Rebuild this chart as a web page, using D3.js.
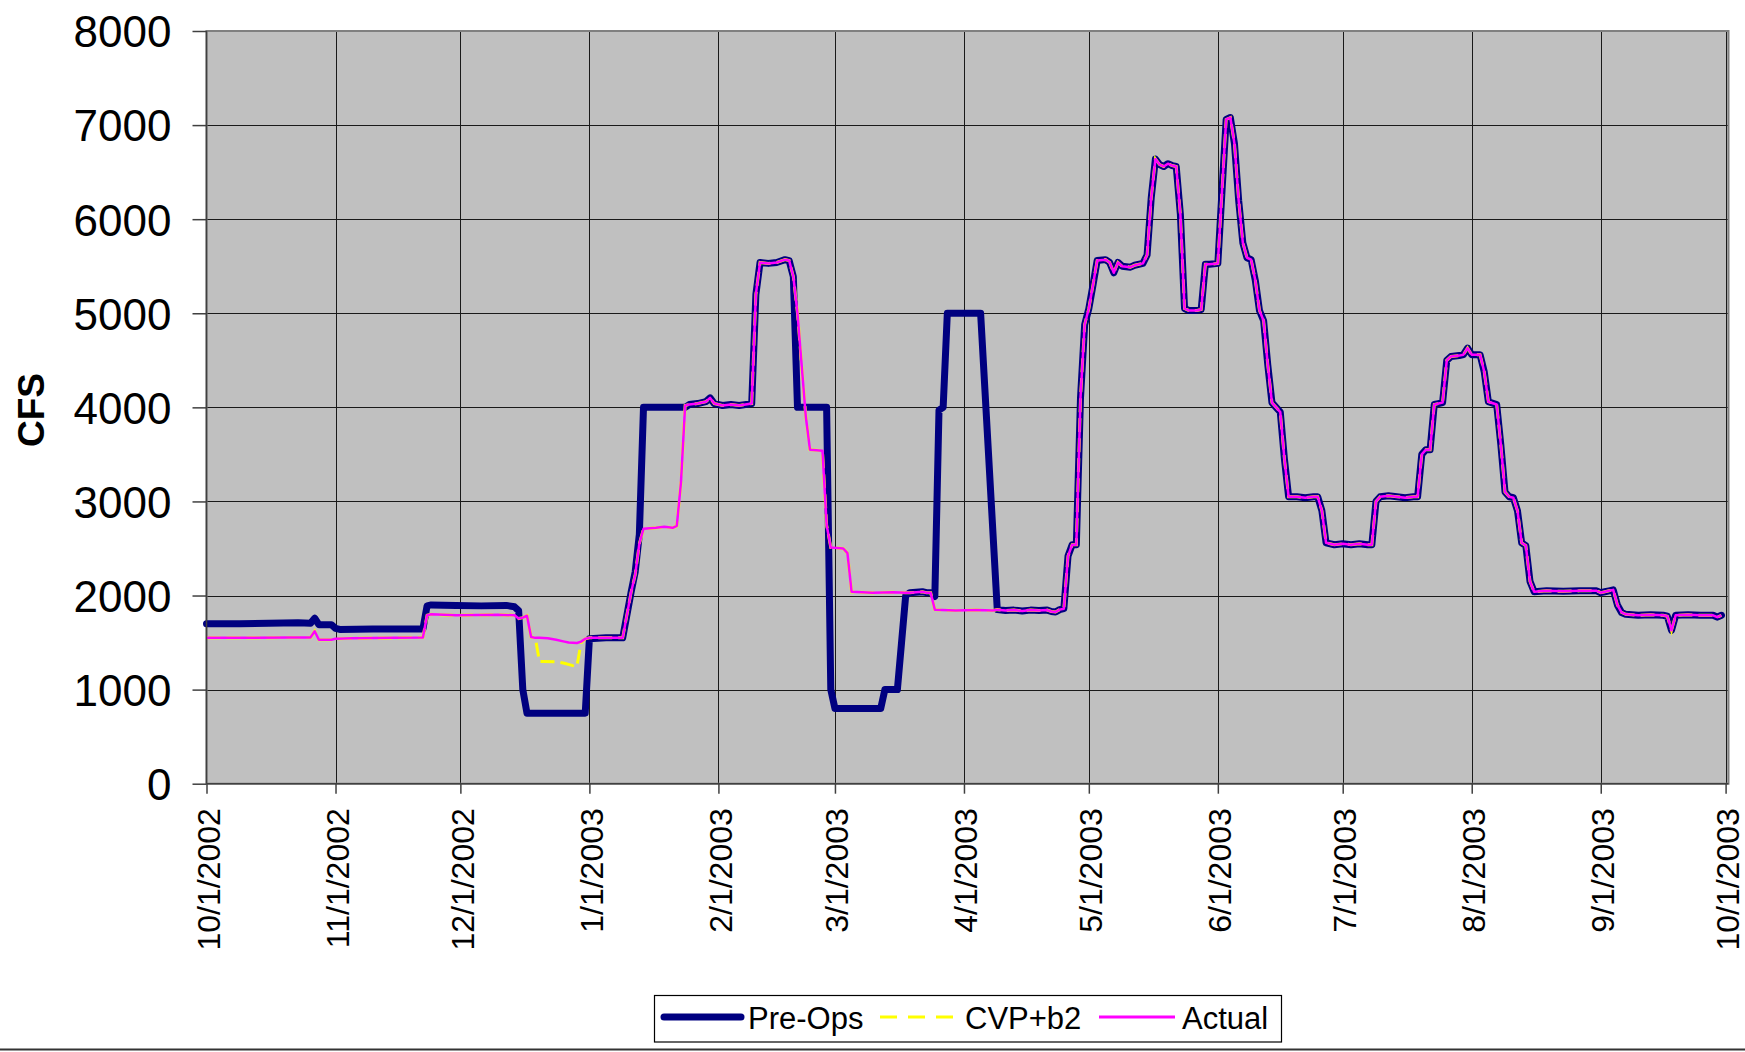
<!DOCTYPE html>
<html><head><meta charset="utf-8">
<script src="https://cdn.jsdelivr.net/npm/d3@7"></script>
<style>
html,body{margin:0;padding:0;background:#fff;}
svg{display:block;font-family:Arial,"Liberation Sans",sans-serif;}
</style>
</head><body>
<svg id="chart" width="1745" height="1052"></svg>
<script>
// ---------- DATA (day offset from 10/1/2002, CFS) ----------
const startDate = Date.UTC(2002, 9, 1);
const endDate = Date.UTC(2003, 9, 1);
const yTickValues = [0, 1000, 2000, 3000, 4000, 5000, 6000, 7000, 8000];
const seriesNames = ["Pre-Ops", "CVP+b2", "Actual"];

// Pre-Ops, Oct 2002 - early Apr 2003
const preOpsFall = [
  [0,1700],[8,1700],[15,1705],[22,1710],[25,1705],[26,1760],[27,1690],[30,1690],[31,1650],[32,1640],
  [40,1645],[48,1645],[52,1645],[53,1890],[54,1900],[60,1895],[66,1890],[72,1895],[74,1880],[75,1840],
  [76,1000],[77,750],[91,750],[92,1540],[96,1550],[100,1550],[102,2030],[103,2250],[104,2650],[105,4000],
  [115,4000],[116,4030],[118,4040],[120,4060],[121,4100],[122,4040],[124,4020],[126,4030],[128,4020],[131,4040],
  [132,5200],[133,5540],[135,5530],[137,5540],[139,5570],[140,5560],[141,5390],[142,4000],[149,4000],[150,1000],
  [151,800],[162,800],[163,1000],[166,1000],[167,1500],[168,2000],[169,2030],[172,2040],[173,2030],[174,2030],
  [175,1990],[176,3970],[177,4000],[178,5000],[186,5000]
];

// Actual, Oct 2002 - early Apr 2003
const actualFall = [
  [0,1550],[10,1550],[20,1555],[25,1555],[26,1620],[27,1530],[30,1530],[31,1540],[35,1545],[45,1550],
  [52,1555],[53,1790],[54,1800],[60,1790],[70,1795],[74,1790],[75,1755],[76,1765],[77,1785],[78,1560],
  [79,1550],[80,1550],[82,1545],[84,1530],[86,1510],[87,1500],[89,1495],[90,1510],[91,1540],[92,1550],
  [100,1550],[102,2030],[103,2220],[104,2550],[105,2710],[108,2720],[110,2730],[112,2720],[113,2740],[114,3200],
  [115,4020],[116,4030],[118,4040],[120,4060],[121,4100],[122,4040],[124,4020],[126,4030],[128,4020],[131,4040],
  [132,5200],[133,5540],[135,5530],[137,5540],[139,5570],[140,5560],[141,5390],[142,5000],[143,4450],[144,3900],
  [145,3550],[148,3540],[149,2750],[150,2510],[153,2500],[154,2450],[155,2040],[160,2030],[165,2035],[168,2030],
  [169,2030],[172,2040],[173,2030],[174,2030],[175,1850],[180,1840],[185,1845],[189,1840]
];

// CVP+b2 where it departs from Actual (December 2002)
const cvpDecember = [
  [80,1300],[81,1300],[84,1295],[86,1280],[88,1255],[89,1245],[90,1500]
];

// All three series coincide from early April 2003 on
const sharedSpringSummer = [
  [190,1850],[192,1840],[194,1845],[196,1835],[198,1845],[200,1840],[202,1845],[203,1830],[204,1825],[205,1850],
  [206,1860],[207,2420],[208,2540],[209,2540],[210,4100],[211,4880],[212,5050],[213,5300],[214,5560],[216,5570],
  [217,5540],[218,5430],[219,5540],[220,5500],[222,5490],[223,5510],[225,5530],[226,5620],[227,6230],[228,6640],
  [229,6580],[230,6560],[231,6590],[232,6570],[233,6560],[234,6050],[235,5050],[236,5030],[238,5030],[239,5040],
  [240,5520],[241,5520],[243,5530],[244,6300],[245,7060],[246,7080],[247,6800],[248,6200],[249,5750],[250,5590],
  [251,5570],[252,5350],[253,5030],[254,4920],[255,4450],[256,4050],[257,4000],[258,3950],[259,3450],[260,3050],
  [262,3050],[264,3040],[266,3050],[267,3050],[268,2900],[269,2560],[271,2540],[273,2550],[275,2540],[277,2550],
  [279,2540],[280,2540],[281,3000],[282,3050],[284,3060],[286,3050],[288,3040],[290,3050],[291,3050],[292,3500],
  [293,3550],[294,3550],[295,4030],[296,4040],[297,4050],[298,4500],[299,4540],[301,4550],[302,4560],[303,4630],
  [304,4560],[306,4560],[307,4380],[308,4060],[310,4030],[311,3600],[312,3100],[313,3050],[314,3040],[315,2900],
  [316,2560],[317,2530],[318,2150],[319,2040],[322,2050],[326,2045],[330,2050],[334,2050],[335,2030],[336,2040],
  [337,2050],[338,2060],[339,1900],[340,1820],[341,1800],[344,1790],[347,1795],[350,1790],[351,1780],[352,1630],
  [353,1790],[356,1795],[359,1790],[362,1790],[363,1770],[364,1790]
];

// ---------- BUILD SERIES ----------
const preOps = preOpsFall.concat(sharedSpringSummer);
const actual = actualFall.concat(sharedSpringSummer);
const cvp = actualFall.filter(d => d[0] < 80 || d[0] > 90).concat(cvpDecember)
  .sort((a, b) => a[0] - b[0]).concat(sharedSpringSummer);

const colors = { "Pre-Ops": "#000080", "CVP+b2": "#FFFF00", "Actual": "#FF00FF" };

// ---------- LAYOUT ----------
const plot = { left: 206.5, right: 1725.6, rectRight: 1728.5, top: 31, bottom: 783.7 };
const toDate = d => new Date(startDate + d * 864e5);

const x = d3.scaleUtc().domain([new Date(startDate), new Date(endDate)]).range([plot.left, plot.right]);
const y = d3.scaleLinear().domain([0, 8000]).range([plot.bottom, plot.top]);

const svg = d3.select("#chart");

// plot background
svg.append("rect")
  .attr("x", plot.left).attr("y", plot.top)
  .attr("width", plot.rectRight - plot.left).attr("height", plot.bottom - plot.top)
  .attr("fill", "#C0C0C0");

const monthTicks = d3.utcMonth.range(new Date(startDate), new Date(endDate + 1));

// gridlines
const grid = svg.append("g");
grid.selectAll("line.h").data(yTickValues.filter(v => v > 0 && v < 8000)).join("line")
  .attr("x1", plot.left).attr("x2", plot.rectRight)
  .attr("y1", d => Math.round(y(d)) + 0.5).attr("y2", d => Math.round(y(d)) + 0.5)
  .attr("stroke", "#1a1a1a").attr("stroke-width", 1);
grid.selectAll("line.v").data(monthTicks.slice(1)).join("line")
  .attr("x1", d => Math.round(x(d)) + 0.5).attr("x2", d => Math.round(x(d)) + 0.5)
  .attr("y1", plot.top).attr("y2", plot.bottom)
  .attr("stroke", "#1a1a1a").attr("stroke-width", 1);

// plot border
svg.append("rect")
  .attr("x", plot.left).attr("y", plot.top)
  .attr("width", plot.rectRight - plot.left).attr("height", plot.bottom - plot.top)
  .attr("fill", "none").attr("stroke", "#808080").attr("stroke-width", 2);

// series
const line = d3.line().x(d => x(toDate(d[0]))).y(d => y(d[1]));
const seriesG = svg.append("g");
seriesG.append("path").datum(preOps).attr("d", line)
  .attr("fill", "none").attr("stroke", colors["Pre-Ops"]).attr("stroke-width", 7)
  .attr("stroke-linejoin", "round").attr("stroke-linecap", "round");
seriesG.append("path").datum(cvp).attr("d", line)
  .attr("fill", "none").attr("stroke", colors["CVP+b2"]).attr("stroke-width", 3)
  .attr("stroke-dasharray", "14,6");
seriesG.append("path").datum(actual).attr("d", line)
  .attr("fill", "none").attr("stroke", colors["Actual"]).attr("stroke-width", 2.5)
  .attr("stroke-linejoin", "round");

// axes lines
svg.append("line").attr("x1", plot.left).attr("x2", plot.left).attr("y1", plot.top).attr("y2", plot.bottom)
  .attr("stroke", "#404040").attr("stroke-width", 1.5);
svg.append("line").attr("x1", plot.left).attr("x2", plot.rectRight).attr("y1", plot.bottom).attr("y2", plot.bottom)
  .attr("stroke", "#404040").attr("stroke-width", 1.5);

// Y axis
const yAxis = svg.append("g").attr("transform", `translate(${plot.left},0)`)
  .call(d3.axisLeft(y).tickValues(yTickValues).tickFormat(d3.format("d")).tickSize(14).tickPadding(21));
yAxis.select(".domain").remove();
yAxis.selectAll(".tick line").attr("stroke", "#404040").attr("stroke-width", 1.5);
yAxis.selectAll(".tick text").attr("font-size", 44).attr("font-family", "Arial, 'Liberation Sans', sans-serif")
  .attr("fill", "#000").attr("dy", "0.36em");

// X axis
const xAxis = svg.append("g").attr("transform", `translate(0,${plot.bottom})`)
  .call(d3.axisBottom(x).tickValues(monthTicks).tickFormat(d3.utcFormat("%-m/%-d/%Y")).tickSize(10));
xAxis.select(".domain").remove();
xAxis.selectAll(".tick line").attr("stroke", "#404040").attr("stroke-width", 1.5);
xAxis.selectAll(".tick text")
  .attr("font-size", 32).attr("font-family", "Arial, 'Liberation Sans', sans-serif").attr("fill", "#000")
  .attr("transform", "rotate(-90)")
  .attr("text-anchor", "end")
  .attr("x", -24.5).attr("y", 13).attr("dy", 0);

// Y title
svg.append("text").attr("transform", "translate(44,410) rotate(-90)")
  .attr("text-anchor", "middle").attr("font-size", 37).attr("font-weight", "bold").text("CFS");

// Legend
const lg = svg.append("g");
lg.append("rect").attr("x", 654.5).attr("y", 995.5).attr("width", 627).attr("height", 46.5)
  .attr("fill", "#fff").attr("stroke", "#000").attr("stroke-width", 1.2);
const legendItems = [
  { name: seriesNames[0], x1: 664, x2: 741, tx: 748, w: 7, dash: null, cap: "round" },
  { name: seriesNames[1], x1: 880, x2: 955, tx: 965, w: 3, dash: "17,11", cap: "butt" },
  { name: seriesNames[2], x1: 1099, x2: 1175, tx: 1182, w: 3, dash: null, cap: "butt" }
];
legendItems.forEach(it => {
  const l = lg.append("line").attr("x1", it.x1).attr("x2", it.x2).attr("y1", 1017).attr("y2", 1017)
    .attr("stroke", colors[it.name]).attr("stroke-width", it.w).attr("stroke-linecap", it.cap);
  if (it.dash) l.attr("stroke-dasharray", it.dash);
  lg.append("text").attr("x", it.tx).attr("y", 1029).attr("font-size", 31).text(it.name);
});

// bottom frame line
svg.append("line").attr("x1", 0).attr("x2", 1745).attr("y1", 1049.5).attr("y2", 1049.5)
  .attr("stroke", "#333").attr("stroke-width", 2);
</script>
</body></html>
